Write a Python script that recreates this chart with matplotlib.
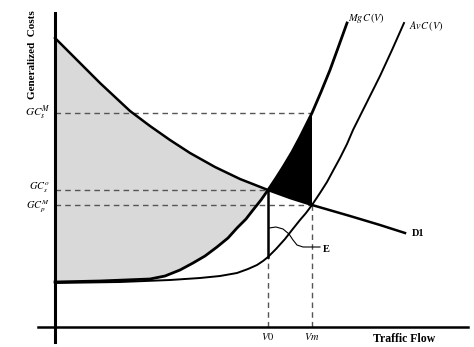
import numpy as np
import matplotlib
matplotlib.use('Agg')
import matplotlib.pyplot as plt

plt.rcParams['font.family'] = ['Liberation Serif', 'DejaVu Serif']
plt.rcParams['mathtext.fontset'] = 'stix'

# curves (flow, cost)
d1_x = np.array([55, 70, 85, 100, 115, 130, 150, 170, 190, 215, 240, 268, 290, 312, 350, 380, 405])
d1_c = np.array([309, 294, 279, 264, 250, 236, 221, 207, 194, 180, 168, 157, 149, 142, 131, 122, 114])

mgc_x = np.array([55, 100, 150, 165, 180, 193, 205, 217, 228, 237, 246, 253, 261, 268, 276, 283,
                  292, 300, 306, 312, 321, 330, 338, 347])
mgc_c = np.array([65, 66, 68, 71, 77, 84, 91, 100, 109, 119, 128, 137, 147, 157, 169, 180,
                  195, 210, 222, 234, 255, 277, 299, 324])

avc_x = np.array([55, 120, 170, 200, 220, 237, 248, 257, 263, 268, 276, 285, 292, 300, 306, 312,
                  320, 327, 334, 340, 347, 353, 365, 380, 392, 404])
avc_c = np.array([64, 65, 67, 69, 71, 74, 78, 82, 86, 90, 98, 108, 117, 127, 134, 142,
                  154, 165, 178, 189, 203, 217, 241, 271, 297, 324])

# key levels
v0, vm = 268, 312
gcs_m, gcs_o, gcp_m = 234, 157, 142
avc_v0 = 90

e_x = [269, 276, 283, 289, 293, 297, 303, 320]
e_c = [119, 120, 118, 113, 107, 102, 100, 100]

fig = plt.figure(figsize=(4.74, 3.47), dpi=100)
ax = fig.add_axes([0, 0, 1, 1])
ax.set_xlim(0, 474)
ax.set_ylim(0, 347)
ax.axis('off')

# shaded areas
m1 = d1_x <= v0
m2 = mgc_x <= v0
ax.fill(np.concatenate([d1_x[m1], mgc_x[m2][::-1]]),
        np.concatenate([d1_c[m1], mgc_c[m2][::-1]]), color='#d9d9d9', lw=0)
m3 = (mgc_x >= v0) & (mgc_x <= vm)
m4 = (d1_x >= v0) & (d1_x <= vm)
ax.fill(np.concatenate([mgc_x[m3], d1_x[m4][::-1]]),
        np.concatenate([mgc_c[m3], d1_c[m4][::-1]]), color='black', lw=0)

# dashed guides
dash = dict(color='#555555', lw=1, dashes=(4, 3))
ax.plot([55, vm], [gcs_m, gcs_m], **dash)
ax.plot([55, v0], [gcs_o, gcs_o], **dash)
ax.plot([55, vm], [gcp_m, gcp_m], **dash)
ax.plot([v0, v0], [20, avc_v0], **dash)
ax.plot([vm, vm], [20, gcp_m], **dash)

# curves
ax.plot(d1_x, d1_c, color='black', lw=1.8)
ax.plot(mgc_x, mgc_c, color='black', lw=2.0)
ax.plot(avc_x, avc_c, color='black', lw=1.4)
ax.plot([v0, v0], [avc_v0, gcs_o], color='black', lw=1.8)
ax.plot(e_x, e_c, color='black', lw=0.8)

# axes
ax.plot([55, 55], [5, 334], color='black', lw=2.2)
ax.plot([38, 468], [20, 20], color='black', lw=1.8)

# labels
ax.text(33, 292, 'Generalized  Costs', rotation=90, ha='center', va='center',
        fontsize=8, fontweight='bold')
ax.text(404, 8, 'Traffic Flow', ha='center', va='center', fontsize=8.5, fontweight='bold')
ax.text(v0, 11, r'$V0$', ha='center', va='center', fontsize=7.5)
ax.text(vm, 11, r'$Vm$', ha='center', va='center', fontsize=7.5)
ax.text(50, gcs_m, r'$GC_{s}^{M}$', ha='right', va='center', fontsize=8)
ax.text(50, gcs_o + 2, r'$GC_{s}^{o}$', ha='right', va='center', fontsize=7.5)
ax.text(50, gcp_m - 2, r'$GC_{p}^{M}$', ha='right', va='center', fontsize=7.5)
ax.text(348, 329, r'$MgC\,(V)$', ha='left', va='center', fontsize=7.5)
ax.text(409, 321, r'$AvC\,(V)$', ha='left', va='center', fontsize=7.5)
ax.text(412, 114, 'D1', ha='left', va='center', fontsize=7.5, fontweight='bold')
ax.text(323, 98, 'E', ha='left', va='center', fontsize=7.5, fontweight='bold')

fig.savefig('out.png', dpi=100)
